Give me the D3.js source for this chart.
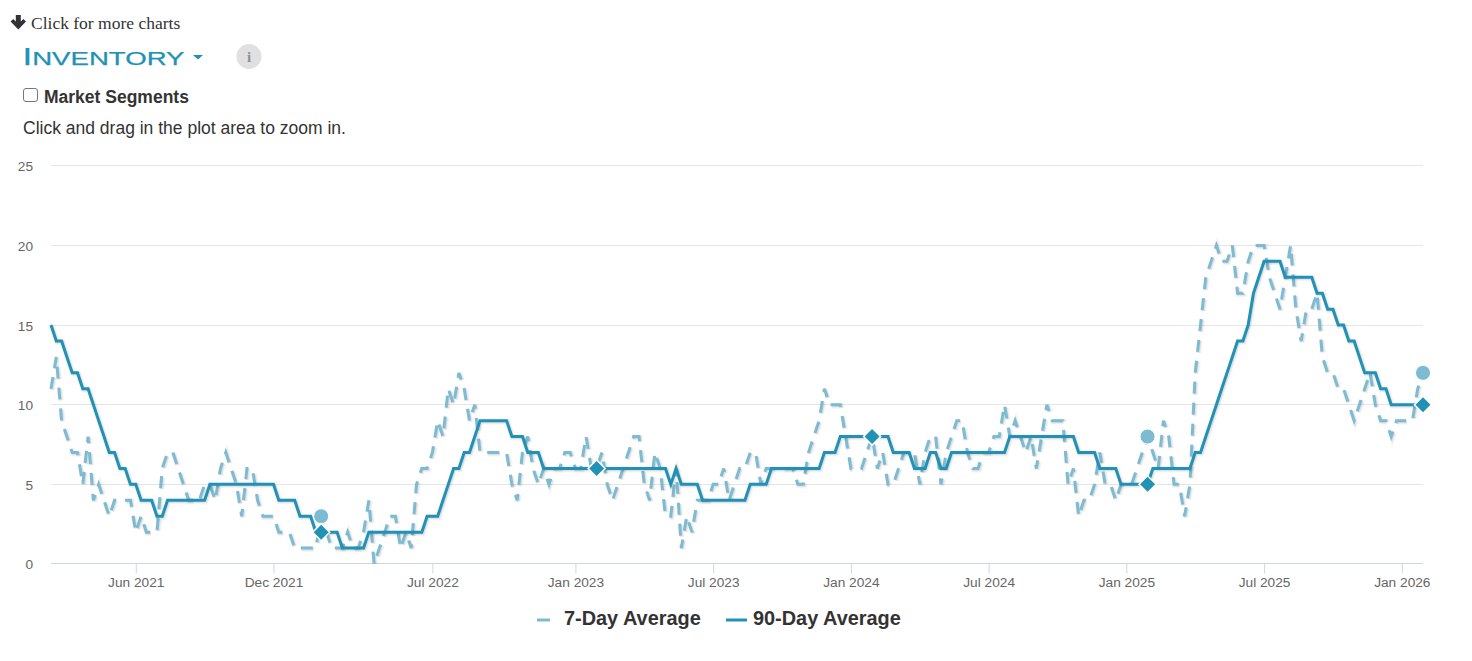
<!DOCTYPE html>
<html><head><meta charset="utf-8">
<script src="https://cdn.jsdelivr.net/npm/d3@7"></script>
<style>
html,body{margin:0;padding:0;background:#fff;overflow:hidden}
svg{display:block}
text{font-family:"Liberation Sans",Arial,sans-serif;fill:#333}
</style></head><body><div id="c"></div>
<script>
const firstWeek = "2021-02-12";
const avg7 = [
11,13,9,8,7,7,5,8,4,5, 4,3,4,4,4,4,2,3,2,2, 2,6,7,7,6,5,4,4,4,5, 5,4,6,7,6,5,3,6,6,4,
3,3,3,2,2,2,1,1,1,1, 1,3,2,1,1,1,2,1,1,2, 4,0,1,2,3,3,1,2,1,5, 6,6,7,9,8,11,10,12,11,9,
10,7,7,7,7,7,7,5,4,7, 8,6,5,6,5,6,6,7,7,6, 6,8,6,6,7,5,4,5,6,7, 8,8,5,4,7,6,3,3,6,1,
3,2,4,4,4,5,5,6,4,5, 6,6,7,7,5,6,6,6,6,6, 6,5,5,7,8,9,11,10,10,10, 8,6,6,6,7,8,6,7,5,5,
6,7,7,7,5,7,8,8,5,7, 8,9,9,7,6,6,7,7,8,8, 10,8,9,8,7,8,6,8,10,9, 9,9,5,6,3,4,4,5,7,5,
5,4,5,5,5,6,7,8,7,6, 9,8,5,5,3,5,12,15,18,19, 20,19,19,20,17,17,19,20,20,20,
18,17,16,18,20,16,14,16,16,17, 13,12,12,11,11,10,9,10,11,12, 10,9,9,8,9,9,9,9,11,12];
const avg90 = [
15,14,14,13,12,12,11,11,10,9, 8,7,7,6,6,5,5,4,4,4, 3,3,4,4,4,4,4,4,4,4, 5,5,5,5,5,5,5,5,5,5,
5,5,5,4,4,4,4,3,3,3, 2,2,2,2,2,1,1,1,1,1, 2,2,2,2,2,2,2,2,2,2, 2,3,3,3,4,5,6,6,7,7,
8,9,9,9,9,9,9,8,8,8, 7,7,7,6,6,6,6,6,6,6, 6,6,6,6,6,6,6,6,6,6, 6,6,6,6,6,6,6,5,6,5,
5,5,5,4,4,4,4,4,4,4, 4,4,5,5,5,5,6,6,6,6, 6,6,6,6,6,6,7,7,7,8, 8,8,8,8,8,8,8,8,8,7,
7,7,7,6,6,6,7,7,6,6, 7,7,7,7,7,7,7,7,7,7, 7,8,8,8,8,8,8,8,8,8, 8,8,8,8,7,7,7,7,6,6,
6,6,5,5,5,5,5,5,6,6, 6,6,6,6,6,6,7,7,8,9, 10,11,12,13,14,14,15,17,18,19,
19,19,19,18,18,18,18,18,18,17, 17,16,16,15,15,14,14,13,12,12, 12,11,11,10,10,10,10,10,10,10];
const circleWeeks = ["2022-02-04","2025-01-31","2026-01-30"];
const diamondWeeks = ["2022-02-04","2023-02-03","2024-02-02","2025-01-31","2026-01-30"];
const xTicks = ["2021-06-04","2021-12-03","2022-07-01","2023-01-06","2023-07-07","2024-01-05","2024-07-05","2025-01-03","2025-07-04","2026-01-02"];
const yTicks = [0,5,10,15,20,25];
const seriesNames = ["7-Day Average","90-Day Average"];
const color7 = "#7dbbd3", color90 = "#2191b6";

const W=1472,H=661, L=51,R=1423,T=165.8,B=564;
const parse=d3.utcParse("%Y-%m-%d");
const start=parse(firstWeek);
const dates=avg7.map((_,i)=>d3.utcDay.offset(start,i*7));
const x=d3.scaleUtc().domain([dates[0],dates[dates.length-1]]).range([L,R]);
const y=d3.scaleLinear().domain([0,25]).range([B,T]);
const svg=d3.select("#c").append("svg").attr("width",W).attr("height",H);

// page header
svg.append("path").attr("fill","#333")
 .attr("d","M15.8 15h5v6.5l2.6-2.6 2.6 2.6-7.7 8-7.7-8 2.6-2.6 2.6 2.6z");
svg.append("text").attr("x",31).attr("y",28.5).style("font-family","'Liberation Serif',serif").style("font-size","17.5px").text("Click for more charts");
const inv=svg.append("text").attr("x",22.5).attr("y",65).attr("textLength",162).attr("lengthAdjust","spacingAndGlyphs")
 .style("fill",color90).style("stroke",color90).style("stroke-width",.25);
inv.append("tspan").style("font-size","24px").text("I");
inv.append("tspan").style("font-size","19px").text("NVENTORY");
svg.append("path").attr("d","M193 55h10l-5 4.5z").attr("fill",color90);
svg.append("circle").attr("cx",249).attr("cy",56.5).attr("r",12.5).attr("fill","#e0e0e0");
svg.append("text").attr("x",249).attr("y",62).attr("text-anchor","middle").style("font-family","'Liberation Serif',serif").style("font-weight","bold").style("font-size","15px").style("fill","#909090").text("i");
svg.append("rect").attr("x",23.5).attr("y",88.5).attr("width",14).attr("height",13).attr("rx",2.5).attr("fill","#fff").attr("stroke","#767676");
svg.append("text").attr("x",44).attr("y",103).style("font-weight","bold").style("font-size","17.5px").text("Market Segments");
svg.append("text").attr("x",23).attr("y",134).style("font-size","17.5px").text("Click and drag in the plot area to zoom in.");

// grid and axes
svg.append("g").selectAll("line").data(yTicks.filter(d=>d>0)).join("line")
 .attr("x1",L).attr("x2",R).attr("y1",d=>Math.floor(y(d))+.5).attr("y2",d=>Math.floor(y(d))+.5)
 .attr("stroke","#e6e6e6");
const xa=svg.append("g").attr("transform",`translate(0,${B-.5})`)
 .call(d3.axisBottom(x).tickValues(xTicks.map(parse)).tickFormat(d3.utcFormat("%b %Y")).tickSize(10).tickPadding(4));
xa.select(".domain").attr("stroke","#ccd6eb").attr("d",`M${L},0H${R}`);
xa.selectAll("line").attr("stroke","#ccd6eb");
xa.selectAll("text").style("font-size","13.7px").style("fill","#666").style("font-family","'Liberation Sans',Arial,sans-serif");
const ya=svg.append("g").attr("transform","translate(33,0)")
 .call(d3.axisLeft(y).tickValues(yTicks).tickSize(0).tickPadding(0));
ya.select(".domain").remove();
ya.selectAll("text").attr("dy","0.36em").style("font-size","13.7px").style("fill","#666").style("font-family","'Liberation Sans',Arial,sans-serif");

// series
svg.append("defs").append("clipPath").attr("id","plot").append("rect").attr("x",L-3).attr("y",T-10).attr("width",R-L+14).attr("height",B-T+10);
const plot=svg.append("g").attr("clip-path","url(#plot)");
const line=d3.line().x((d,i)=>x(dates[i])).y(d=>y(d));
function drawLine(vals,col,dash){
  [[7,.02],[5,.04],[3,.07]].forEach(([w,o])=>{
    plot.append("path").datum(vals).attr("d",line).attr("fill","none").attr("stroke","#000")
      .attr("stroke-opacity",o).attr("stroke-width",w).attr("transform","translate(1,1)")
      .attr("stroke-dasharray",dash);
  });
  plot.append("path").datum(vals).attr("d",line).attr("fill","none").attr("stroke",col)
    .attr("stroke-width",3).attr("stroke-linejoin","miter").attr("stroke-dasharray",dash);
}
drawLine(avg7,color7,"12,9");
drawLine(avg90,color90,null);

const idx=s=>d3.bisectLeft(dates,parse(s));
plot.selectAll("circle.m").data(circleWeeks).join("circle").attr("class","m")
 .attr("cx",d=>x(parse(d))).attr("cy",d=>y(avg7[idx(d)])).attr("r",7.5)
 .attr("fill",color7).attr("stroke","#fff").attr("stroke-width",1);
const diamond=d3.line()(d3.range(4).map(k=>{const a=k*Math.PI/2;return [7,0].map((_,j)=>7.5*(j?Math.sin(a):Math.cos(a)))}))+"Z";
plot.selectAll("path.m").data(diamondWeeks).join("path").attr("class","m")
 .attr("transform",d=>`translate(${x(parse(d))},${y(avg90[idx(d)])})`)
 .attr("d",diamond)
 .attr("fill",color90).attr("stroke","#fff").attr("stroke-width",3).style("paint-order","stroke");

// legend
const lg=svg.append("g");
lg.append("line").attr("x1",537).attr("x2",550).attr("y1",620).attr("y2",620).attr("stroke",color7).attr("stroke-width",3);
lg.append("text").attr("x",564).attr("y",625).style("font-weight","bold").style("font-size","19.9px").text(seriesNames[0]);
lg.append("line").attr("x1",726).attr("x2",747).attr("y1",620).attr("y2",620).attr("stroke",color90).attr("stroke-width",3);
lg.append("text").attr("x",753).attr("y",625).style("font-weight","bold").style("font-size","19.9px").text(seriesNames[1]);
</script></body></html>
